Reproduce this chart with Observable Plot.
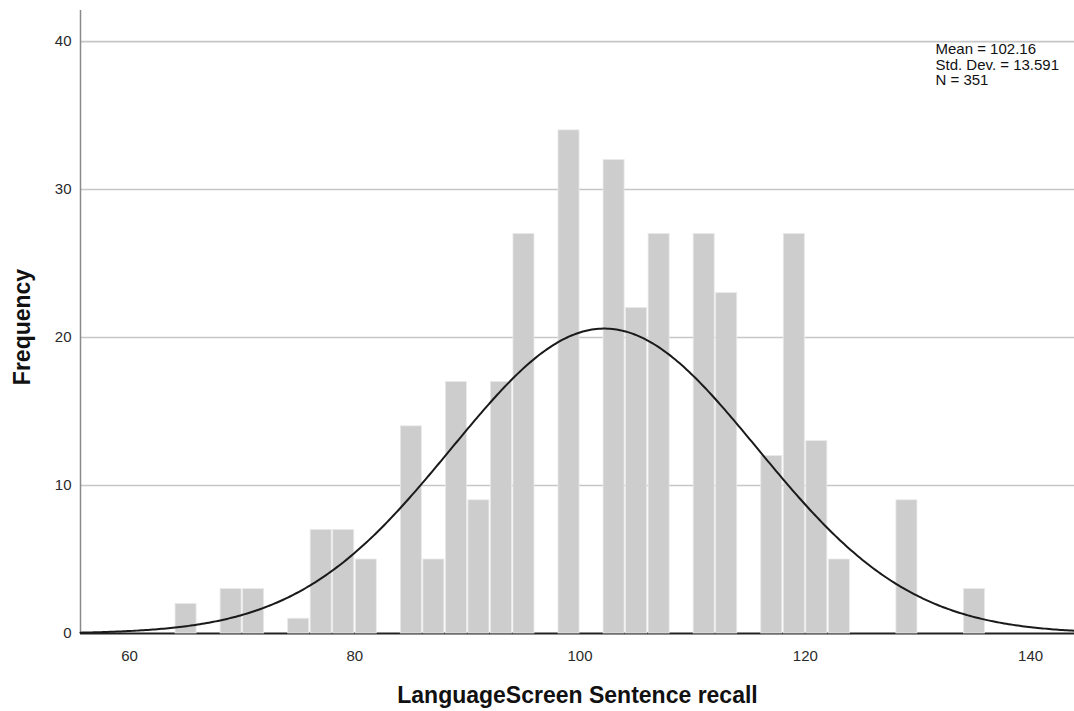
<!DOCTYPE html>
<html>
<head>
<meta charset="utf-8">
<script src="https://cdn.jsdelivr.net/npm/d3@7"></script>
<script src="https://cdn.jsdelivr.net/npm/@observablehq/plot@0.6"></script>
<style>
  html, body { margin: 0; padding: 0; background: #fff; }
  #chart svg { display: block; }
</style>
</head>
<body>
<div id="chart"></div>
<script>
// Histogram bins (left edge, width 2) and frequencies
const binStart = [64, 68, 70, 74, 76, 78, 80, 84, 86, 88, 90, 92, 94, 98, 102, 104, 106, 110, 112, 116, 118, 120, 122, 128, 134];
const counts   = [2, 3, 3, 1, 7, 7, 5, 14, 5, 17, 9, 17, 27, 34, 32, 22, 27, 27, 23, 12, 27, 13, 5, 9, 3];
const binWidth = 2;

// Summary statistics shown on the chart
const statMean = 102.16;
const statSD = 13.591;
const statN = 351;

// Axis ticks and titles
const xTicks = [60, 80, 100, 120, 140];
const yTicks = [0, 10, 20, 30, 40];
const xTitle = "LanguageScreen Sentence recall";
const yTitle = "Frequency";

const xDomain = [55.65, 143.9];
const yDomain = [0, 42.1];

const bars = binStart.map((s, i) => ({x1: s, x2: s + binWidth, count: counts[i]}));

// Fitted normal curve from the reported mean / SD / N
const curve = d3.range(xDomain[0], xDomain[1] + 0.001, 0.2).map(x => ({
  x,
  y: statN * binWidth * Math.exp(-0.5 * ((x - statMean) / statSD) ** 2) / (statSD * Math.sqrt(2 * Math.PI))
}));

const statText = `Mean = ${statMean.toFixed(2)}\nStd. Dev. = ${statSD.toFixed(3)}\nN = ${statN}`;

const chart = Plot.plot({
  width: 1074,
  height: 711,
  marginLeft: 80,
  marginRight: 0,
  marginTop: 10,
  marginBottom: 78,
  x: {domain: xDomain},
  y: {domain: yDomain},
  style: {fontFamily: "'Liberation Sans', Arial, sans-serif", fontSize: "15px", color: "#2a2a2a", background: "#fff"},
  marks: [
    Plot.ruleY(yTicks.filter(d => d > 0), {stroke: "#c6c6c6", strokeWidth: 1.6}),
    Plot.ruleX([xDomain[0]], {y1: yDomain[0], y2: yDomain[1], stroke: "#8a8a8a", strokeWidth: 1.5}),
    Plot.ruleY([0], {stroke: "#222", strokeWidth: 2}),
    Plot.rect(bars, {x1: "x1", x2: "x2", y1: 0, y2: "count", fill: "#cdcdcd", stroke: "#e9e9e9", strokeWidth: 0.8, insetLeft: 1, insetRight: 0.5}),
    Plot.line(curve, {x: "x", y: "y", stroke: "#1a1a1a", strokeWidth: 2}),
    Plot.axisX({ticks: xTicks, tickSize: 0, tickPadding: 17, label: null, fontSize: 15}),
    Plot.axisY({ticks: yTicks, tickSize: 0, tickPadding: 9, label: null, fontSize: 15}),
    Plot.text([xTitle], {frameAnchor: "bottom", dy: 62, lineAnchor: "middle", textAnchor: "middle", text: d => d, fontSize: 23, fontWeight: "bold", fill: "#111"}),
    Plot.text([yTitle], {frameAnchor: "left", dx: -58, dy: 5, rotate: -90, textAnchor: "middle", lineAnchor: "middle", text: d => d, fontSize: 23, fontWeight: "bold", fill: "#111"}),
    Plot.text([statText], {frameAnchor: "top-right", dx: -139, dy: 33, textAnchor: "start", lineAnchor: "top", lineHeight: 1.03, text: d => d, fontSize: 15, fill: "#111"})
  ]
});

document.getElementById("chart").appendChild(chart);
</script>
</body>
</html>
